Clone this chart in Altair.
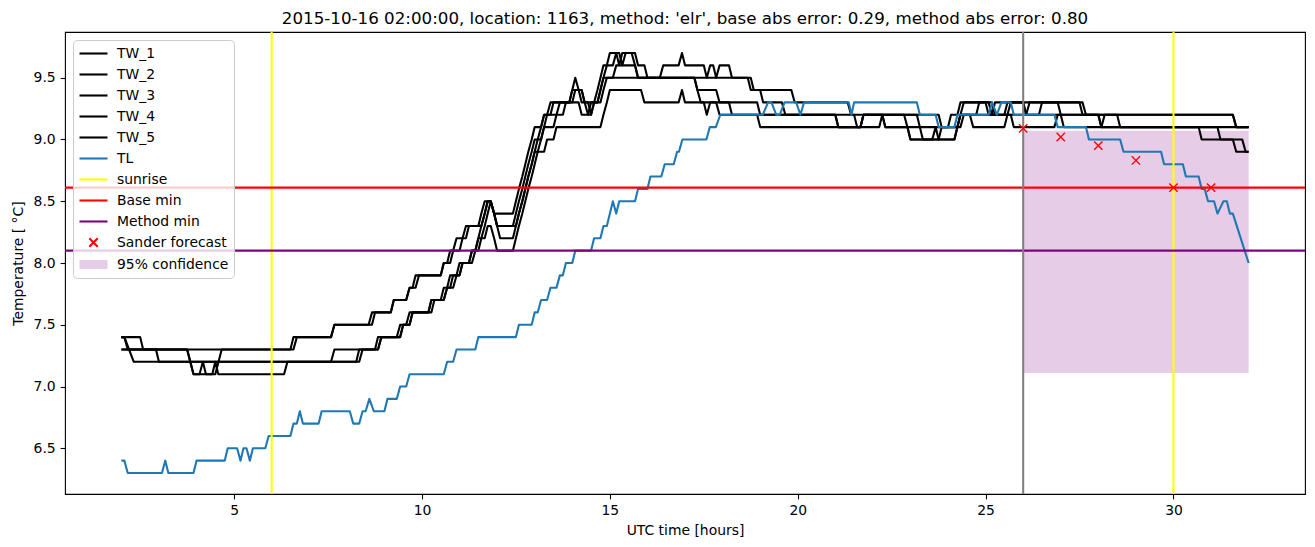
import altair as alt
import pandas as pd

TITLE = "2015-10-16 02:00:00, location: 1163, method: 'elr', base abs error: 0.29, method abs error: 0.80"

# (time [h], temperature [degC]) vertices
TW_1 = [(2.0,7.4),(2.5,7.4),(2.58,7.3),(6.5,7.3),(6.58,7.4),(7.58,7.4),(7.67,7.5),(8.58,7.5),(8.67,7.6),(9.17,7.6),
        (9.25,7.7),(9.58,7.7),(9.67,7.8),(9.75,7.8),(9.83,7.9),(10.5,7.9),(10.58,8.0),(10.67,8.0),(10.75,8.1),(11.0,8.1),
        (11.08,8.2),(11.17,8.2),(11.25,8.3),(11.5,8.3),(11.58,8.4),(11.67,8.5),(11.83,8.5),(11.92,8.4),(12.42,8.4),(12.5,8.5),
        (12.58,8.6),(12.67,8.7),(12.75,8.8),(12.83,8.9),(12.92,9.0),(13.0,9.1),(13.17,9.1),(13.25,9.2),(13.33,9.2),(13.42,9.3),
        (13.92,9.3),(14.0,9.4),(14.08,9.5),(14.17,9.4),(14.25,9.4),(14.33,9.3),(14.58,9.3),(14.67,9.4),(14.75,9.5),(14.83,9.6),
        (14.92,9.6),(15.0,9.7),(15.17,9.7),(15.25,9.6),(15.33,9.7),(15.58,9.7),(15.67,9.6),(15.75,9.5),(16.33,9.5),(16.42,9.6),
        (16.83,9.6),(16.92,9.7),(17.0,9.6),(17.5,9.6),(17.58,9.5),(17.67,9.6),(17.75,9.6),(17.83,9.5),(17.92,9.6),(18.17,9.6),
        (18.25,9.5),(18.75,9.5),(18.83,9.4),(19.83,9.4),(19.92,9.3),(21.33,9.3),(21.42,9.2),(22.25,9.2),(22.33,9.1),(22.92,9.1),
        (23.0,9.0),(23.58,9.0),(23.67,9.1),(23.75,9.0),(24.17,9.0),(24.25,9.1),(24.33,9.2),(24.42,9.3),(25.0,9.3),(25.08,9.2),
        (25.5,9.2),(25.58,9.3),(27.5,9.3),(27.58,9.2),(31.58,9.2),(31.67,9.1),(32.0,9.1)]

TW_2 = [(2.0,7.4),(2.08,7.4),(2.17,7.3),(3.75,7.3),(3.92,7.1),(4.5,7.1),(4.67,7.3),(6.58,7.3),(6.67,7.4),(7.58,7.4),
        (7.67,7.5),(8.67,7.5),(8.75,7.6),(9.17,7.6),(9.25,7.7),(9.58,7.7),(9.67,7.8),(9.83,7.8),(9.92,7.9),(10.5,7.9),
        (10.58,8.0),(10.75,8.0),(10.83,8.1),(10.92,8.2),(11.08,8.2),(11.17,8.3),(11.58,8.3),(11.67,8.4),(11.75,8.5),(11.83,8.5),
        (11.92,8.4),(12.0,8.3),(12.42,8.3),(12.5,8.4),(12.58,8.5),(12.67,8.6),(12.75,8.7),(12.83,8.8),(12.92,8.9),(13.0,9.0),
        (13.08,9.0),(13.17,9.1),(13.25,9.2),(13.42,9.2),(13.5,9.3),(14.0,9.3),(14.08,9.4),(14.25,9.4),(14.33,9.3),(14.42,9.2),
        (14.5,9.3),(14.67,9.3),(14.75,9.4),(14.83,9.5),(14.92,9.6),(15.08,9.6),(15.17,9.7),(15.25,9.7),(15.33,9.6),(15.42,9.7),
        (15.67,9.7),(15.75,9.6),(15.92,9.6),(16.0,9.5),(18.67,9.5),(18.75,9.4),(19.0,9.4),(19.08,9.3),(19.58,9.3),(19.67,9.2),
        (21.0,9.2),(21.08,9.1),(21.67,9.1),(21.75,9.2),(22.83,9.2),(22.92,9.1),(23.0,9.0),(23.75,9.0),(23.83,9.1),(24.0,9.1),
        (24.08,9.2),(24.25,9.2),(24.33,9.3),(25.08,9.3),(25.17,9.2),(25.25,9.3),(26.0,9.3),(26.08,9.2),(26.17,9.3),(27.58,9.3),
        (27.67,9.2),(28.0,9.2),(28.08,9.1),(30.67,9.1),(30.75,9.0),(31.58,9.0),(31.67,8.9),(32.0,8.9)]

TW_3 = [(2.0,7.4),(2.08,7.4),(2.33,7.2),(7.58,7.2),(7.67,7.3),(8.75,7.3),(8.83,7.4),(9.33,7.4),(9.42,7.5),(9.58,7.5),
        (9.67,7.6),(10.17,7.6),(10.25,7.7),(10.5,7.7),(10.58,7.8),(10.67,7.8),(10.75,7.9),(10.92,7.9),(11.0,8.0),(11.25,8.0),
        (11.33,8.1),(11.42,8.1),(11.5,8.2),(11.58,8.3),(11.67,8.4),(11.75,8.5),(11.83,8.5),(11.92,8.4),(12.0,8.3),(12.08,8.2),
        (12.42,8.2),(12.5,8.3),(12.58,8.4),(12.67,8.5),(12.75,8.6),(12.83,8.7),(12.92,8.8),(13.0,8.9),(13.08,9.0),(13.17,9.0),
        (13.25,9.1),(13.33,9.2),(13.58,9.2),(13.67,9.3),(13.92,9.3),(14.0,9.4),(14.17,9.4),(14.25,9.3),(14.42,9.3),(14.5,9.2),
        (14.58,9.3),(14.75,9.3),(14.83,9.4),(14.92,9.5),(15.08,9.5),(15.17,9.6),(15.67,9.6),(15.75,9.5),(17.25,9.5),(17.33,9.4),
        (17.83,9.4),(17.92,9.3),(18.92,9.3),(19.0,9.2),(21.5,9.2),(21.58,9.1),(22.17,9.1),(22.25,9.2),(23.17,9.2),(23.25,9.1),
        (23.33,9.0),(24.17,9.0),(24.25,9.1),(24.33,9.2),(24.75,9.2),(24.83,9.3),(25.17,9.3),(25.25,9.2),(26.42,9.2),(26.5,9.3),
        (26.92,9.3),(27.0,9.2),(28.0,9.2),(28.08,9.1),(31.17,9.1),(31.25,9.0),(31.83,9.0),(31.92,8.9),(32.0,8.9)]

TW_4 = [(2.0,7.3),(2.92,7.3),(3.0,7.2),(8.25,7.2),(8.33,7.3),(8.83,7.3),(8.92,7.4),(9.42,7.4),(9.5,7.5),(9.67,7.5),
        (9.75,7.6),(10.17,7.6),(10.25,7.7),(10.58,7.7),(10.67,7.8),(10.75,7.8),(10.83,7.9),(11.0,7.9),(11.08,8.0),(11.25,8.0),
        (11.33,8.1),(11.5,8.1),(11.58,8.2),(11.67,8.3),(11.75,8.4),(11.83,8.5),(11.92,8.4),(12.0,8.3),(12.5,8.3),(12.58,8.4),
        (12.67,8.5),(12.75,8.6),(12.83,8.7),(12.92,8.8),(13.0,8.9),(13.08,8.9),(13.17,9.0),(13.25,9.1),(13.5,9.1),(13.58,9.2),
        (13.75,9.2),(13.83,9.3),(14.17,9.3),(14.25,9.2),(14.5,9.2),(14.58,9.3),(14.67,9.3),(14.75,9.4),(14.83,9.5),(17.25,9.5),
        (17.33,9.4),(17.42,9.3),(17.83,9.3),(17.92,9.2),(21.0,9.2),(21.08,9.1),(21.67,9.1),(21.75,9.2),(22.25,9.2),(22.33,9.1),
        (24.33,9.1),(24.42,9.2),(24.58,9.2),(24.67,9.1),(25.5,9.1),(25.58,9.2),(25.67,9.2),(25.75,9.1),(26.83,9.1),(26.92,9.2),
        (27.0,9.2),(27.08,9.1),(28.08,9.1),(28.17,9.2),(28.5,9.2),(28.58,9.1),(32.0,9.1)]

TW_5 = [(2.0,7.3),(3.75,7.3),(3.92,7.1),(4.08,7.1),(4.17,7.2),(4.25,7.1),(4.42,7.1),(4.5,7.2),(4.58,7.1),(6.33,7.1),
        (6.42,7.2),(8.33,7.2),(8.42,7.3),(8.83,7.3),(8.92,7.4),(9.42,7.4),(9.5,7.5),(9.67,7.5),(9.75,7.6),(10.25,7.6),
        (10.33,7.7),(10.58,7.7),(10.67,7.8),(10.83,7.8),(10.92,7.9),(11.0,7.9),(11.08,8.0),(11.33,8.0),(11.42,8.1),(11.5,8.2),
        (11.67,8.2),(11.75,8.3),(11.83,8.3),(11.92,8.2),(12.0,8.1),(12.42,8.1),(12.5,8.2),(12.58,8.3),(12.67,8.4),(12.75,8.5),
        (12.83,8.6),(12.92,8.7),(13.0,8.8),(13.08,8.9),(13.25,8.9),(13.33,9.0),(13.5,9.0),(13.58,9.1),(14.75,9.1),(14.83,9.2),
        (14.92,9.3),(15.0,9.4),(15.83,9.4),(15.92,9.3),(16.83,9.3),(16.92,9.4),(17.0,9.3),(17.5,9.3),(17.58,9.2),(17.67,9.3),
        (18.17,9.3),(18.25,9.2),(18.92,9.2),(19.0,9.1),(21.67,9.1),(21.75,9.2),(23.75,9.2),(23.83,9.1),(24.25,9.1),(24.33,9.2),
        (25.58,9.2),(25.67,9.3),(26.0,9.3),(26.08,9.2),(31.58,9.2),(31.67,9.1),(32.0,9.1)]

TL = [(2.0,6.4),(2.08,6.4),(2.17,6.3),(3.08,6.3),(3.17,6.4),(3.25,6.3),(3.92,6.3),(4.0,6.4),(4.75,6.4),(4.83,6.5),
      (5.08,6.5),(5.17,6.4),(5.25,6.5),(5.33,6.5),(5.42,6.4),(5.5,6.5),(5.83,6.5),(5.92,6.6),(6.5,6.6),(6.58,6.7),
      (6.67,6.7),(6.75,6.8),(6.83,6.7),(7.25,6.7),(7.33,6.8),(8.08,6.8),(8.17,6.7),(8.33,6.7),(8.42,6.8),(8.5,6.8),
      (8.6,6.9),(8.72,6.8),(9.0,6.8),(9.08,6.9),(9.33,6.9),(9.42,7.0),(9.58,7.0),(9.67,7.1),(10.58,7.1),(10.67,7.2),
      (10.83,7.2),(10.92,7.3),(11.42,7.3),(11.5,7.4),(12.5,7.4),(12.58,7.5),(12.92,7.5),(13.0,7.6),(13.08,7.6),(13.17,7.7),
      (13.33,7.7),(13.42,7.8),(13.58,7.8),(13.67,7.9),(13.75,7.9),(13.83,8.0),(14.0,8.0),(14.08,8.1),(14.5,8.1),(14.58,8.2),
      (14.75,8.2),(14.83,8.3),(14.92,8.3),(15.08,8.5),(15.17,8.4),(15.25,8.5),(15.67,8.5),(15.75,8.6),(16.0,8.6),(16.08,8.7),
      (16.37,8.7),(16.46,8.8),(16.7,8.8),(16.79,8.9),(16.84,8.9),(16.93,9.0),(17.57,9.0),(17.66,9.1),(17.82,9.1),(17.94,9.2),
      (19.07,9.2),(19.21,9.3),(19.3,9.3),(19.43,9.2),(19.52,9.2),(19.65,9.3),(19.96,9.3),(20.07,9.2),(20.17,9.3),(21.36,9.3),
      (21.43,9.2),(21.5,9.3),(23.17,9.3),(23.25,9.2),(23.67,9.2),(23.75,9.1),(24.17,9.1),(24.25,9.2),(25.08,9.2),(25.17,9.3),
      (25.3,9.2),(25.42,9.3),(25.67,9.3),(25.75,9.2),(26.83,9.2),(26.92,9.1),(27.67,9.1),(27.75,9.0),(28.58,9.0),(28.67,8.9),
      (29.67,8.9),(29.75,8.8),(30.25,8.8),(30.33,8.7),(30.67,8.7),(30.75,8.6),(30.83,8.6),(30.92,8.5),(31.08,8.5),(31.17,8.4),
      (31.33,8.5),(31.42,8.5),(31.5,8.4),(31.58,8.4),(32.0,8.0)]

SUNRISE = [6.0, 30.0]
FORECAST_START = [26.0]
BASE_MIN = [8.61]
METHOD_MIN = [8.10]
FORECAST_T = [26, 27, 28, 29, 30, 31]
FORECAST_V = [9.09, 9.02, 8.95, 8.83, 8.61, 8.61]
CONF = {"t0": 26.0, "t1": 32.0, "lo": 7.11, "hi": 9.07}

X_TICKS = [5, 10, 15, 20, 25, 30]
Y_TICKS = [6.5, 7.0, 7.5, 8.0, 8.5, 9.0, 9.5]

LABELS = ["TW_1", "TW_2", "TW_3", "TW_4", "TW_5", "TL", "sunrise", "Base min", "Method min",
          "Sander forecast", "95% confidence"]
COLORS = ["black", "black", "black", "black", "black", "#1f77b4", "yellow", "red", "purple", "red", "#e6cce6"]
LINE_SYM = "M-1,0L3,0"
X_SYM = "M0.4,-0.6L1.6,0.6M0.4,0.6L1.6,-0.6"
RECT_SYM = "".join(f"M-1,{y}L3,{y}" for y in (-0.5, -0.3, -0.1, 0.1, 0.3, 0.5))
SHAPES = [LINE_SYM] * 9 + [X_SYM, RECT_SYM]

FONT = "DejaVu Sans"

# ---------------- data frames ----------------
tw = pd.DataFrame([{"series": name, "t": t, "v": v}
                   for name, pts in [("TW_1", TW_1), ("TW_2", TW_2), ("TW_3", TW_3), ("TW_4", TW_4), ("TW_5", TW_5)]
                   for t, v in pts])
tl = pd.DataFrame(TL, columns=["t", "v"])
sun = pd.DataFrame({"t": SUNRISE})
fstart = pd.DataFrame({"t": FORECAST_START})
bmin = pd.DataFrame({"v": BASE_MIN})
mmin = pd.DataFrame({"v": METHOD_MIN})
fc = pd.DataFrame({"t": FORECAST_T, "v": FORECAST_V})
conf = pd.DataFrame([CONF])
leg = pd.DataFrame({"label": LABELS, "t": [None] * len(LABELS), "v": [None] * len(LABELS)})

xs = alt.Scale(domain=[0.5, 33.5], nice=False, zero=False)
ys = alt.Scale(domain=[6.13, 9.87], nice=False, zero=False)
AX = dict(grid=False, domain=False, labelFont=FONT, labelFontSize=13.9, labelColor="black",
          titleFont=FONT, titleFontSize=13.9, titleFontWeight="normal", titleColor="black",
          tickColor="black", tickSize=4.9, tickWidth=1.1, labelPadding=4.9)
xaxis = alt.Axis(title="UTC time [hours]", values=X_TICKS, format="d", titlePadding=6, **AX)
yaxis = alt.Axis(title="Temperature [ °C]", values=Y_TICKS, format=".1f", titlePadding=8, **AX)


def X(f):
    return alt.X(f, type="quantitative", scale=xs, axis=xaxis)


def Y(f):
    return alt.Y(f, type="quantitative", scale=ys, axis=yaxis)


LW = 2.08

conf_layer = alt.Chart(conf).mark_rect(color="purple", opacity=0.2).encode(
    x=X("t0"), x2="t1", y=Y("lo"), y2="hi")

tw_layer = alt.Chart(tw).mark_line(color="black", strokeWidth=LW, strokeJoin="round").encode(
    x=X("t"), y=Y("v"), detail="series:N")

tl_layer = alt.Chart(tl).mark_line(color="#1f77b4", strokeWidth=LW, strokeJoin="round").encode(
    x=X("t"), y=Y("v"))

sun_layer = alt.Chart(sun).mark_rule(color="yellow", strokeWidth=LW).encode(x=X("t"))
bmin_layer = alt.Chart(bmin).mark_rule(color="red", strokeWidth=LW).encode(y=Y("v"))
mmin_layer = alt.Chart(mmin).mark_rule(color="purple", strokeWidth=LW).encode(y=Y("v"))
fstart_layer = alt.Chart(fstart).mark_rule(color="gray", strokeWidth=LW).encode(x=X("t"))

fc_layer = alt.Chart(fc).mark_point(shape="M-1,-1L1,1M-1,1L1,-1", size=69, filled=False,
                                    color="red", strokeWidth=1.4, opacity=1).encode(x=X("t"), y=Y("v"))

legend = alt.Legend(title=None, orient="top-left", offset=8, padding=5, symbolSize=196,
                    symbolStrokeWidth=LW, labelOffset=22, rowPadding=5, labelFontSize=13.9,
                    labelFont=FONT, labelColor="black", fillColor="rgba(255,255,255,0.8)",
                    strokeColor="#cccccc", cornerRadius=4, symbolOpacity=1, labelLimit=400)

leg_layer = alt.Chart(leg).mark_point(filled=False, opacity=1).encode(
    x=X("t"), y=Y("v"),
    color=alt.Color("label:N", scale=alt.Scale(domain=LABELS, range=COLORS), legend=legend),
    shape=alt.Shape("label:N", scale=alt.Scale(domain=LABELS, range=SHAPES), legend=legend),
)

chart = alt.layer(conf_layer, tw_layer, tl_layer, sun_layer, bmin_layer, mmin_layer, fstart_layer,
                  fc_layer, leg_layer).properties(
    width=1240, height=462,
    title=alt.TitleParams(text=TITLE, fontSize=16.7, fontWeight="normal", font=FONT,
                          color="black", anchor="middle", offset=3),
    padding={"left": 65, "top": 32, "right": 10, "bottom": 53},
    autosize=alt.AutoSizeParams(type="none"),
    background="white",
).configure_view(stroke="black", strokeWidth=1.1)

chart.save("out.html", embed_options={"renderer": "svg", "actions": False})
